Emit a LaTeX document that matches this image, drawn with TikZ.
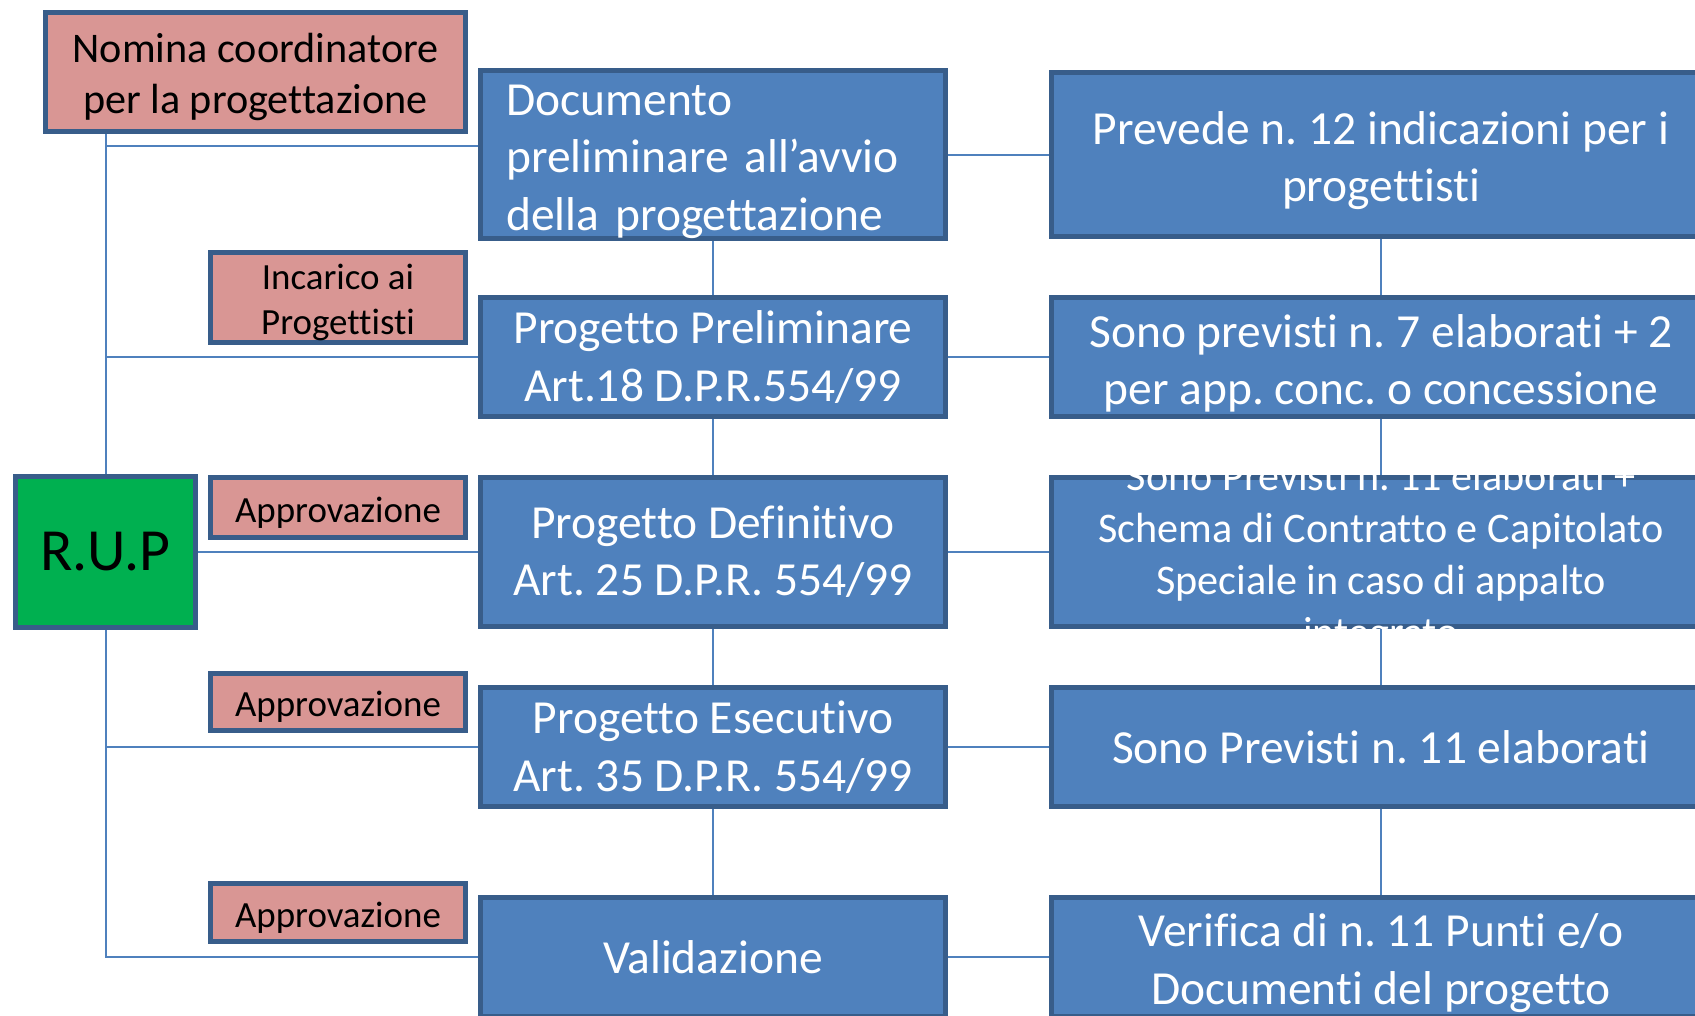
\documentclass[tikz,border=0pt]{standalone}
\usepackage{fontspec}
\setmainfont{Carlito}[Ligatures=CommonOff]
\frenchspacing

\definecolor{boxline}{HTML}{385D8A}
\definecolor{boxblue}{HTML}{4F81BD}
\definecolor{boxpink}{HTML}{D99694}
\definecolor{boxgreen}{HTML}{00B050}

\newcommand{\boxstrut}{\rule{0pt}{0.95em}}

\begin{document}
\begin{tikzpicture}[x=0.01cm, y=-0.01cm,
    box/.style={draw=boxline, line width=0.05cm, inner sep=0pt, align=center},
    bluebox/.style={box, fill=boxblue, text=white, font=\fontsize{13.5}{16.3}\selectfont},
    midbox/.style={bluebox, minimum width=4.65cm},
    sidebox/.style={bluebox, minimum width=6.59cm},
    pinkbox/.style={box, fill=boxpink, minimum width=2.55cm, font=\fontsize{10.5}{12.6}\selectfont},
    link/.style={draw=boxblue, line width=0.02cm}]
            \useasboundingbox (0,0) rectangle (1695,1015);

            \node[box, fill=boxpink, minimum width=4.20cm, minimum height=1.19cm, font=\fontsize{12}{14.5}\selectfont] (nomina) at (255.5,72) {\boxstrut Nomina coordinatore\\per la progettazione};
            \node[pinkbox, minimum height=0.90cm] (incarico) at (338,297.5) {\boxstrut Incarico ai\\Progettisti};
            \node[pinkbox, minimum height=0.60cm] (appr1) at (338,507.5) {\boxstrut Approvazione};
            \node[pinkbox, minimum height=0.57cm] (appr2) at (338,702) {\boxstrut Approvazione};
            \node[pinkbox, minimum height=0.58cm] (appr3) at (338,912.5) {\boxstrut Approvazione};
            \node[box, fill=boxgreen, minimum width=1.80cm, minimum height=1.51cm, font=\fontsize{17}{20}\selectfont] (rup) at (105.5,552) {R.U.P};

            \node[midbox, minimum height=1.64cm, align=left, text width=4.13cm, inner xsep=0.26cm] (doc) at (713,154.5) {\boxstrut Documento\\preliminare all’avvio\\della progettazione};
            \node[midbox, minimum height=1.19cm] (prel) at (713,357) {Progetto Preliminare\\Art.18 D.P.R.554/99};
            \node[midbox, minimum height=1.49cm] (def) at (713,552) {Progetto Definitivo\\Art. 25 D.P.R. 554/99};
            \node[midbox, minimum height=1.19cm] (esec) at (713,747) {Progetto Esecutivo\\Art. 35 D.P.R. 554/99};
            \node[midbox, minimum height=1.19cm] (valid) at (713,957) {Validazione};

            \node[sidebox, minimum height=1.64cm] (prev) at (1381,154.5) {\boxstrut Prevede n. 12 indicazioni per i\\progettisti};
            \node[sidebox, minimum height=1.19cm] (sono7) at (1381,357) {\boxstrut Sono previsti n. 7 elaborati + 2\\per app. conc. o concessione};
            \node[sidebox, minimum height=1.49cm] (sono11p) at (1381,552) {\raisebox{-0.185cm}[0pt][0pt]{\parbox[c][0pt][c]{6.4cm}{\centering\fontsize{12}{14.8}\selectfont Sono Previsti n. 11 elaborati +\\Schema di Contratto e Capitolato\\Speciale in caso di appalto\\integrato}}};
            \node[sidebox, minimum height=1.19cm] (sono11) at (1381,747) {Sono Previsti n. 11 elaborati};
            \node[sidebox, minimum height=1.19cm] (verif) at (1381,957) {\boxstrut Verifica di n. 11 Punti e/o\\Documenti del progetto};

            \draw[link] (nomina.south -| rup.north) -- (rup.north);
            \draw[link] (nomina.south -| rup.north) |- ([yshift=0.08cm]doc.west);
            \draw[link] (rup.north |- prel.west) -- (prel.west);
            \draw[link] (rup.east) -- (def.west);
            \draw[link] (rup.south) |- (valid.west);
            \draw[link] (rup.south |- esec.west) -- (esec.west);
            \draw[link] (doc) -- (prel) -- (def) -- (esec) -- (valid);
            \draw[link] (prev) -- (sono7) -- (sono11p) -- (sono11) -- (verif);
            \foreach \a/\b in {doc/prev, prel/sono7, def/sono11p, esec/sono11, valid/verif}
                \draw[link] (\a) -- (\b);
        \end{tikzpicture}
\end{document}
